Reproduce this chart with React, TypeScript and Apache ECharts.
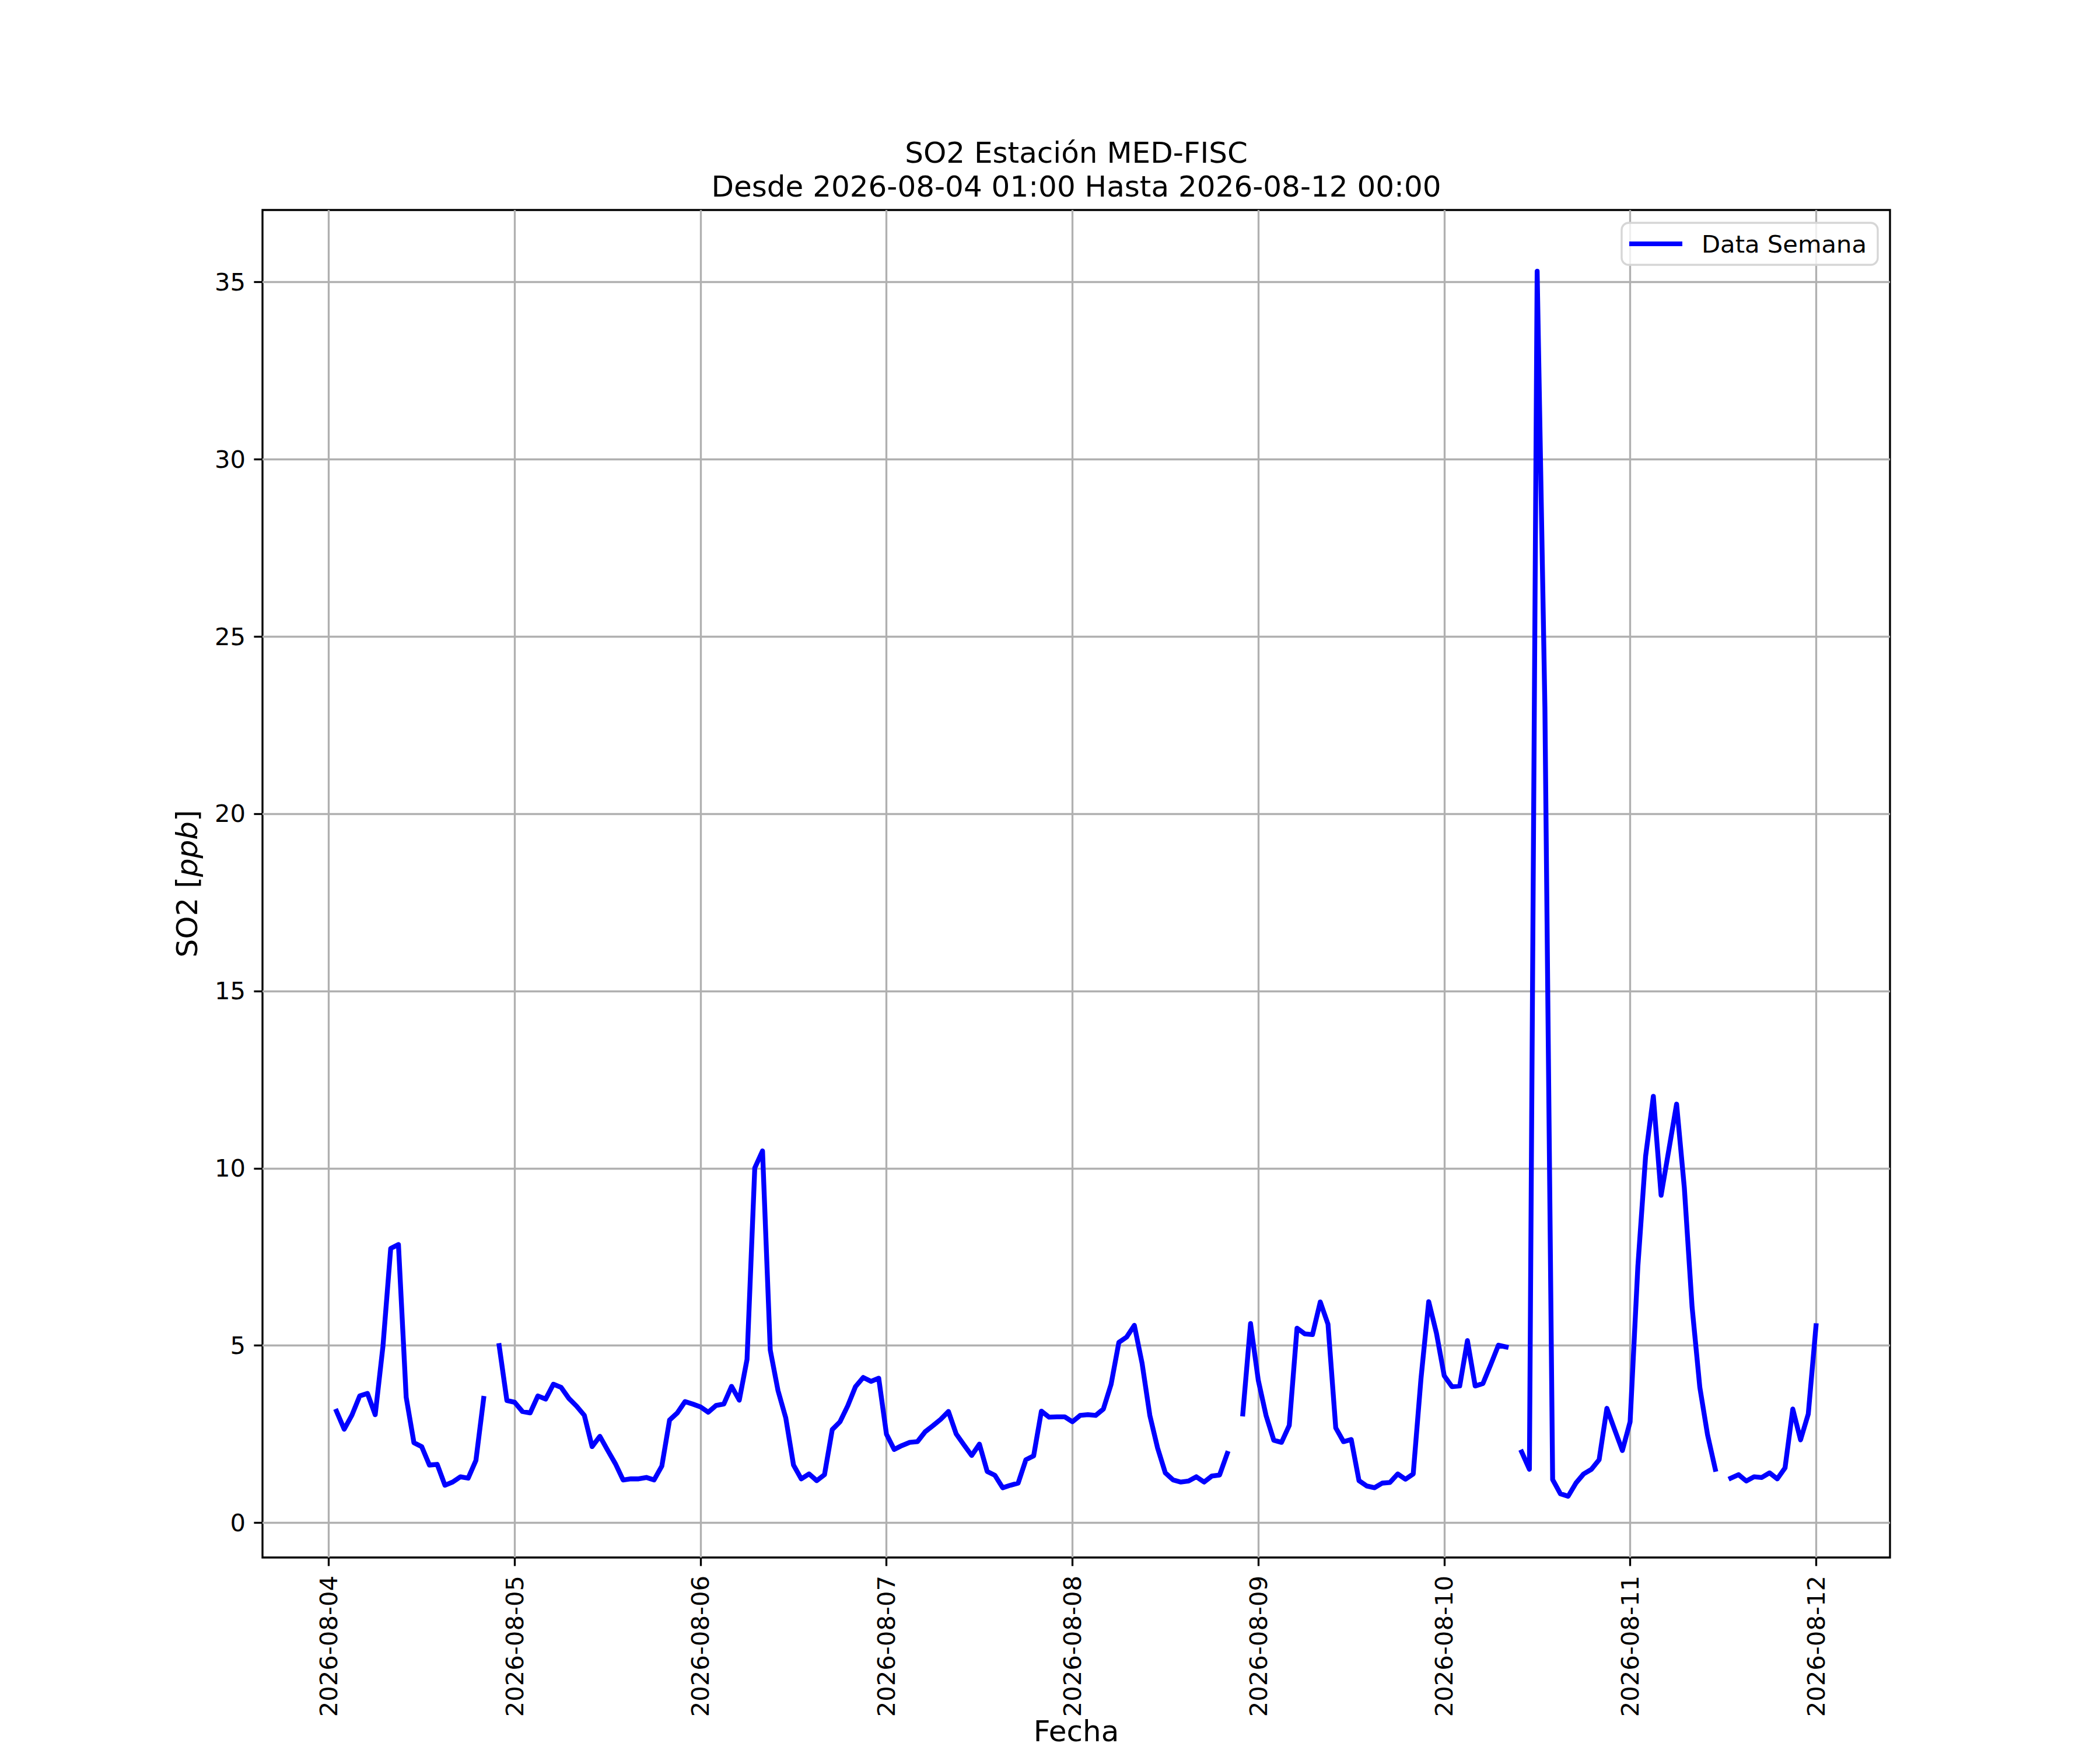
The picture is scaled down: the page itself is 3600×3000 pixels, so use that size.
import React, { useEffect, useRef } from "react";
import * as echarts from "echarts";

// Hourly SO2 values [ppb], one array per day (01:00 .. 24:00); null = missing
const DAY_0804 = [3.15, 2.64, 3.04, 3.58, 3.65, 3.05, 4.98, 7.74, 7.85, 3.54, 2.26, 2.15, 1.63, 1.65, 1.06, 1.15, 1.3, 1.26, 1.76, 3.51, null, 5.0, 3.45, 3.4];
const DAY_0805 = [3.14, 3.1, 3.58, 3.49, 3.91, 3.82, 3.51, 3.29, 3.03, 2.15, 2.44, 2.05, 1.67, 1.21, 1.24, 1.24, 1.28, 1.21, 1.6, 2.9, 3.1, 3.42, 3.35, 3.27];
const DAY_0806 = [3.12, 3.31, 3.35, 3.85, 3.46, 4.61, 10.01, 10.49, 4.87, 3.73, 2.96, 1.63, 1.24, 1.38, 1.19, 1.36, 2.63, 2.85, 3.3, 3.84, 4.1, 3.99, 4.08, 2.5];
const DAY_0807 = [2.07, 2.18, 2.27, 2.29, 2.57, 2.74, 2.92, 3.14, 2.51, 2.2, 1.9, 2.22, 1.45, 1.34, 0.99, 1.06, 1.12, 1.78, 1.89, 3.15, 2.98, 2.99, 2.99, 2.85];
const DAY_0808 = [3.03, 3.05, 3.03, 3.21, 3.91, 5.09, 5.24, 5.57, 4.5, 3.03, 2.11, 1.41, 1.21, 1.15, 1.18, 1.3, 1.15, 1.32, 1.35, 1.96, null, 3.07, 5.62, 4.02];
const DAY_0809 = [3.03, 2.33, 2.27, 2.75, 5.49, 5.33, 5.31, 6.23, 5.6, 2.68, 2.29, 2.35, 1.19, 1.04, 0.99, 1.12, 1.14, 1.38, 1.23, 1.38, 4.06, 6.24, 5.35, 4.15];
const DAY_0810 = [3.84, 3.86, 5.14, 3.86, 3.93, 4.46, 5.01, 4.96, null, 2.0, 1.51, 35.3, 23.0, 1.22, 0.82, 0.75, 1.12, 1.38, 1.51, 1.78, 3.23, 2.63, 2.04, 2.85];
const DAY_0811 = [7.23, 10.34, 12.03, 9.24, 10.52, 11.81, 9.45, 6.09, 3.82, 2.48, 1.51, null, 1.26, 1.36, 1.18, 1.3, 1.28, 1.41, 1.24, 1.55, 3.21, 2.34, 3.07, 5.56];

const START = "2026-08-04T01:00:00Z";
const HOUR_MS = 3600000;
const X_TICK_LABELS = ["2026-08-04", "2026-08-05", "2026-08-06", "2026-08-07", "2026-08-08", "2026-08-09", "2026-08-10", "2026-08-11", "2026-08-12"];
const Y_TICKS = [0, 5, 10, 15, 20, 25, 30, 35];
const SERIES_NAME = "Data Semana";
const TITLE_1 = "SO2 Estación MED-FISC";
const TITLE_2 = "Desde 2026-08-04 01:00 Hasta 2026-08-12 00:00";

const FONT = "DejaVu Sans";

export default function App() {
  const ref = useRef<HTMLDivElement>(null);

  useEffect(() => {
    document.body.style.margin = "0";
    const values = [...DAY_0804, ...DAY_0805, ...DAY_0806, ...DAY_0807, ...DAY_0808, ...DAY_0809, ...DAY_0810, ...DAY_0811];
    const t0 = Date.parse(START);
    const data = values.map((v, i) => [t0 + i * HOUR_MS, v === null ? "-" : v]);
    const tFirst = t0;
    const tLast = t0 + (values.length - 1) * HOUR_MS;
    const xRange = tLast - tFirst;
    const nums = values.filter((v) => v !== null) as number[];
    const vMin = Math.min(...nums);
    const vMax = Math.max(...nums);
    const yRange = vMax - vMin;
    const xTicks = X_TICK_LABELS.map((s) => Date.parse(s + "T00:00:00Z"));

    const chart = echarts.init(ref.current as HTMLDivElement, null, { renderer: "svg", width: 3600, height: 3000 });
    chart.setOption({
      animation: false,
      backgroundColor: "#ffffff",
      grid: {
        left: 450,
        right: 360,
        top: 360,
        bottom: 330,
        show: true,
        borderColor: "#000000",
        borderWidth: 3.33,
        backgroundColor: "transparent",
        containLabel: false,
      },
      xAxis: {
        type: "value",
        position: "bottom",
        min: tFirst - 0.05 * xRange,
        max: tLast + 0.05 * xRange,
        axisLine: { show: false, onZero: false },
        axisTick: {
          show: true,
          length: 14.6,
          inside: false,
          customValues: xTicks,
          lineStyle: { color: "#000000", width: 3.33 },
        },
        axisLabel: {
          show: true,
          customValues: xTicks,
          rotate: 90,
          margin: 31,
          fontSize: 41.7,
          fontFamily: FONT,
          color: "#000000",
          formatter: (val: number) => {
            const idx = xTicks.indexOf(val);
            return idx >= 0 ? X_TICK_LABELS[idx] : "";
          },
        },
        splitLine: { show: true, lineStyle: { color: "#b0b0b0", width: 3.33 } },
      },
      yAxis: {
        type: "value",
        position: "left",
        min: vMin - 0.05 * yRange,
        max: vMax + 0.05 * yRange,
        axisLine: { show: false, onZero: false },
        axisTick: {
          show: true,
          length: 14.6,
          inside: false,
          customValues: Y_TICKS,
          lineStyle: { color: "#000000", width: 3.33 },
        },
        axisLabel: {
          show: true,
          customValues: Y_TICKS,
          margin: 29,
          fontSize: 41.7,
          fontFamily: FONT,
          color: "#000000",
        },
        splitLine: { show: true, lineStyle: { color: "#b0b0b0", width: 3.33 } },
      },
      legend: {
        show: true,
        right: 381,
        top: 382,
        orient: "horizontal",
        padding: [15, 19, 15, 13],
        backgroundColor: "rgba(255,255,255,0.8)",
        borderColor: "#d6d6d6",
        borderWidth: 3.33,
        borderRadius: 12,
        itemWidth: 91,
        itemHeight: 8,
        icon: "rect",
        textStyle: { fontSize: 41.7, fontFamily: FONT, color: "#000000", padding: [0, 0, 0, 28], lineHeight: 42 },
        data: [{ name: SERIES_NAME, icon: "rect" }],
      },
      graphic: [
        {
          type: "text",
          x: 1845,
          y: 262,
          style: { text: TITLE_1, fontSize: 50, fontFamily: FONT, fill: "#000000", textAlign: "center", textVerticalAlign: "middle" },
        },
        {
          type: "text",
          x: 1845,
          y: 320,
          style: { text: TITLE_2, fontSize: 50, fontFamily: FONT, fill: "#000000", textAlign: "center", textVerticalAlign: "middle" },
        },
        {
          type: "text",
          x: 1845,
          y: 2968,
          style: { text: "Fecha", fontSize: 50, fontFamily: FONT, fill: "#000000", textAlign: "center", textVerticalAlign: "middle" },
        },
        {
          type: "text",
          x: 321,
          y: 1515,
          rotation: Math.PI / 2,
          style: {
            text: "{n|SO2 [}{i|ppb}{n|]}",
            textAlign: "center",
            textVerticalAlign: "middle",
            fill: "#000000",
            rich: {
              n: { fontSize: 50, fontFamily: FONT, fill: "#000000" },
              i: { fontSize: 50, fontFamily: FONT, fontStyle: "italic", fill: "#000000" },
            },
          },
        },
      ],
      series: [
        {
          name: SERIES_NAME,
          type: "line",
          data,
          showSymbol: false,
          symbol: "none",
          connectNulls: false,
          clip: true,
          color: "#0000ff",
          itemStyle: { color: "#0000ff" },
          lineStyle: { color: "#0000ff", width: 8.33, cap: "square", join: "round" },
        },
      ],
    });
    return () => chart.dispose();
  }, []);

  return <div ref={ref} style={{ position: "absolute", left: 0, top: 0, width: 3600, height: 3000, background: "#ffffff" }} />;
}
